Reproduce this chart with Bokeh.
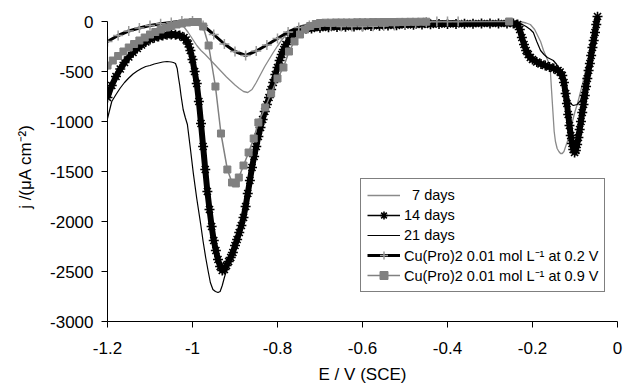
from bokeh.plotting import figure
from bokeh.models import Range1d, FixedTicker, Legend, LegendItem, ColumnDataSource
from bokeh.embed import file_html
from bokeh.resources import INLINE

# ---------------- data ----------------
X_TICKS = [-1.2, -1.0, -0.8, -0.6, -0.4, -0.2, 0.0]
X_TICK_LABELS = ["-1.2", "-1", "-0.8", "-0.6", "-0.4", "-0.2", "0"]
Y_TICKS = [0, -500, -1000, -1500, -2000, -2500, -3000]
Y_TICK_LABELS = ["0", "-500", "-1000", "-1500", "-2000", "-2500", "-3000"]

SERIES_NAMES = ["\u00a0\u00a07 days", "14 days", "21 days",
                "Cu(Pro)2 0.01 mol L\u207b\u00b9 at 0.2 V",
                "Cu(Pro)2 0.01 mol L\u207b\u00b9 at 0.9 V"]

E_7 = [-1.2, -1.18, -1.16, -1.14, -1.12, -1.10, -1.08, -1.06, -1.04, -1.03, -1.02, -1.01,
       -1.0, -0.99, -0.98, -0.97, -0.96, -0.95, -0.94, -0.93, -0.92, -0.91, -0.90, -0.89,
       -0.88, -0.87, -0.86, -0.85, -0.84, -0.83, -0.82, -0.81, -0.80, -0.79, -0.78, -0.77,
       -0.76, -0.74, -0.72, -0.70, -0.65, -0.60, -0.50, -0.40, -0.30, -0.235, -0.225,
       -0.215, -0.205, -0.195, -0.188, -0.181, -0.174, -0.168, -0.162, -0.158, -0.155,
       -0.152, -0.149, -0.146, -0.142, -0.138, -0.134, -0.130, -0.126, -0.122, -0.118,
       -0.114, -0.110, -0.106, -0.100, -0.094, -0.088, -0.082, -0.076, -0.070, -0.064,
       -0.058, -0.052, -0.048]
J_7 = [-480, -370, -290, -220, -160, -115, -75, -45, -25, -30, -55, -110,
       -175, -240, -290, -330, -375, -420, -465, -510, -555, -595, -635, -670,
       -700, -710, -680, -610, -530, -450, -380, -310, -245, -185, -135, -95,
       -65, -35, -20, -15, -10, -8, -5, 0, 0, 0, -5,
       -15, -30, -80, -140, -200, -290, -350, -410, -490, -700,
       -900, -1100, -1200, -1270, -1300, -1320, -1320, -1300, -1250, -1200,
       -1140, -1070, -1000, -900, -820, -720, -620, -510, -410, -300,
       -180, -60, 40]

E_14 = [-1.2, -1.19, -1.18, -1.17, -1.16, -1.15, -1.14, -1.13, -1.12, -1.11, -1.10, -1.09,
        -1.08, -1.07, -1.06, -1.05, -1.04, -1.03, -1.02, -1.015, -1.01, -1.005, -1.0,
        -0.995, -0.99, -0.985, -0.98, -0.975, -0.97, -0.965, -0.96, -0.955, -0.95, -0.945,
        -0.94, -0.935, -0.93, -0.925, -0.92, -0.915, -0.91, -0.905, -0.90, -0.895, -0.89,
        -0.885, -0.88, -0.875, -0.87, -0.865, -0.86, -0.855, -0.85, -0.845, -0.84, -0.835,
        -0.83, -0.825, -0.82, -0.815, -0.81, -0.805, -0.80, -0.795, -0.79, -0.785, -0.78,
        -0.77, -0.76, -0.75, -0.74, -0.72, -0.70, -0.68, -0.66, -0.64, -0.62, -0.60, -0.58,
        -0.56, -0.54, -0.52, -0.50, -0.48, -0.46, -0.44, -0.42, -0.40, -0.38, -0.36, -0.34,
        -0.32, -0.30, -0.28, -0.26, -0.245, -0.235, -0.23, -0.225, -0.22, -0.215, -0.21,
        -0.205, -0.20, -0.19, -0.18, -0.17, -0.16, -0.15, -0.14, -0.135, -0.13, -0.126,
        -0.122, -0.119, -0.116, -0.113, -0.11, -0.107, -0.104, -0.101, -0.098, -0.095,
        -0.092, -0.089, -0.086, -0.083, -0.08, -0.077, -0.074, -0.071, -0.068, -0.065,
        -0.062, -0.059, -0.056, -0.053, -0.05, -0.047]
J_14 = [-760, -640, -550, -475, -410, -355, -310, -270, -235, -205, -180, -162,
        -150, -140, -133, -130, -132, -140, -160, -185, -225, -290, -380,
        -500, -620, -800, -1020, -1250, -1480, -1700, -1880, -2050, -2190, -2290,
        -2380, -2450, -2490, -2480, -2440, -2400, -2360, -2310, -2240, -2180, -2110,
        -2040, -1960, -1850, -1720, -1590, -1460, -1350, -1250, -1150, -1060, -980,
        -900, -830, -760, -680, -610, -530, -460, -390, -330, -280, -230,
        -165, -125, -100, -85, -70, -62, -58, -55, -52, -50, -48, -45,
        -42, -40, -38, -35, -33, -30, -28, -26, -25, -24, -22, -22,
        -20, -20, -20, -20, -20, -30, -80, -160, -230, -290, -330,
        -360, -380, -405, -425, -440, -455, -470, -490, -505, -540, -610,
        -720, -820, -930, -1040, -1140, -1220, -1280, -1310, -1290, -1230,
        -1160, -1080, -1000, -910, -830, -740, -650, -570, -490, -420,
        -340, -260, -190, -110, -30, 50]

E_21 = [-1.2, -1.19, -1.18, -1.17, -1.16, -1.15, -1.14, -1.13, -1.12, -1.11, -1.10, -1.09,
        -1.08, -1.07, -1.06, -1.05, -1.045, -1.04, -1.036, -1.033, -1.03, -1.027, -1.022,
        -1.017, -1.012, -1.005, -0.998, -0.99, -0.981, -0.975, -0.969, -0.963, -0.958,
        -0.952, -0.946, -0.94, -0.935, -0.93, -0.925, -0.92, -0.91, -0.90, -0.89, -0.88,
        -0.87, -0.86, -0.85, -0.84, -0.83, -0.82, -0.81, -0.80, -0.79, -0.78, -0.77, -0.76,
        -0.74, -0.72, -0.70, -0.65, -0.60, -0.55, -0.50, -0.45, -0.40, -0.35, -0.30, -0.26,
        -0.235, -0.228, -0.215, -0.205, -0.198, -0.19, -0.181, -0.173, -0.165, -0.158,
        -0.151, -0.143, -0.134, -0.126, -0.118, -0.111, -0.104, -0.095, -0.087, -0.081,
        -0.075, -0.069, -0.064, -0.058, -0.052, -0.047]
J_21 = [-970, -800, -730, -665, -610, -565, -525, -495, -470, -450, -440, -425,
        -415, -405, -400, -405, -410, -420, -470, -560, -640, -740, -880,
        -960, -1030, -1270, -1520, -1770, -2020, -2200, -2360, -2500, -2610,
        -2680, -2700, -2710, -2700, -2640, -2560, -2490, -2390, -2280, -2150, -2000,
        -1770, -1510, -1290, -1090, -930, -790, -640, -490, -360, -260, -190, -145,
        -100, -80, -70, -60, -55, -45, -40, -35, -30, -25, -20, -15,
        -10, -20, -50, -80, -110, -200, -290, -330, -360, -375,
        -390, -430, -490, -580, -720, -820, -840, -830, -790, -700,
        -590, -480, -390, -250, -100, 40]

E_02 = [-1.2, -1.175, -1.15, -1.125, -1.1, -1.075, -1.05, -1.025, -1.0, -0.975, -0.95,
        -0.925, -0.9, -0.875, -0.85, -0.825, -0.8, -0.775, -0.75, -0.725, -0.7, -0.675,
        -0.65, -0.625, -0.6, -0.575, -0.55, -0.525, -0.5, -0.475, -0.45, -0.425, -0.4,
        -0.375]
J_02 = [-200, -140, -95, -65, -40, -22, -10, 5, 5, -40, -130,
        -225, -300, -340, -295, -235, -170, -105, -60, -40, -35, -45,
        -50, -50, -50, -48, -45, -40, -35, -25, -5, 0, 0,
        0]

E_09 = [-1.2, -1.1875, -1.175, -1.1625, -1.15, -1.1375, -1.125, -1.1125, -1.1, -1.0875,
        -1.075, -1.0625, -1.05, -1.0375, -1.025, -1.0125, -1.0, -0.9875, -0.975, -0.962,
        -0.946, -0.933, -0.918, -0.907, -0.898, -0.891, -0.880, -0.868, -0.856, -0.845,
        -0.829, -0.815, -0.800, -0.786, -0.773, -0.760, -0.747, -0.735, -0.723, -0.710,
        -0.700, -0.6875, -0.675, -0.6625, -0.65, -0.6375, -0.625, -0.6125, -0.6, -0.5875,
        -0.575, -0.5625, -0.55, -0.5375, -0.525, -0.5125, -0.5, -0.4875, -0.475, -0.4625,
        -0.45, -0.255]
J_09 = [-440, -390, -345, -300, -260, -225, -190, -160, -130, -105,
        -80, -60, -45, -30, -20, -10, -5, -5, -50, -240,
        -650, -1120, -1480, -1610, -1620, -1560, -1440, -1310, -1170, -1010,
        -860, -720, -570, -460, -300, -200, -130, -80, -45, -25,
        -15, -12, -12, -10, -10, -10, -10, -8, -8, -8,
        -6, -6, -5, -5, -5, -4, -4, -3, -3, -2,
        -2, 0]

# ---------------- figure ----------------
FONT = "Liberation Sans"

p = figure(width=623, height=390, output_backend="svg", toolbar_location=None,
           x_range=Range1d(-1.2, 0.0), y_range=Range1d(-3000, 100),
           min_border_left=107, min_border_right=6, min_border_top=11,
           min_border_bottom=69)
p.outline_line_color = None
p.xgrid.visible = False
p.ygrid.visible = False
p.background_fill_color = "white"
p.border_fill_color = "white"

for ax in (p.xaxis[0], p.yaxis[0]):
    ax.axis_line_color = "black"
    ax.axis_line_width = 1
    ax.major_tick_line_color = "black"
    ax.major_tick_in = 0
    ax.major_tick_out = 6
    ax.minor_tick_line_color = None
    ax.major_label_text_font = FONT
    ax.major_label_text_font_size = "17px"
    ax.major_label_text_color = "black"
    ax.axis_label_text_font = FONT
    ax.axis_label_text_font_size = "17px"
    ax.axis_label_text_font_style = "normal"
    ax.axis_label_text_color = "black"

p.xaxis.ticker = FixedTicker(ticks=X_TICKS)
p.xaxis.major_label_overrides = dict(zip(X_TICKS, X_TICK_LABELS))
p.xaxis.major_label_standoff = 14
p.xaxis.axis_label = "E / V (SCE)"
p.xaxis.axis_label_standoff = 8

p.yaxis.ticker = FixedTicker(ticks=Y_TICKS)
p.yaxis.major_label_overrides = dict(zip(Y_TICKS, Y_TICK_LABELS))
p.yaxis.bounds = (-3000, 0)
p.yaxis.major_label_standoff = 8
p.yaxis.axis_label = "j /(\u03bcA cm\u207b\u00b2)"
p.yaxis.axis_label_standoff = 12

GRAY_THIN = "#8a8a8a"
GRAY_SQ = "#808080"

s7 = ColumnDataSource(dict(x=E_7, y=J_7))
s14 = ColumnDataSource(dict(x=E_14, y=J_14))
s21 = ColumnDataSource(dict(x=E_21, y=J_21))
s02 = ColumnDataSource(dict(x=E_02, y=J_02))
s09 = ColumnDataSource(dict(x=E_09, y=J_09))

r7 = p.line("x", "y", source=s7, line_color=GRAY_THIN, line_width=1.3)

r14_band = p.line("x", "y", source=s14, line_color="black", line_width=6)
r14_line = p.line("x", "y", source=s14, line_color="black", line_width=1.5)
r14_mk = p.scatter("x", "y", source=s14, marker="asterisk", size=10,
                   line_color="black", line_width=1.6)

r21 = p.line("x", "y", source=s21, line_color="black", line_width=1.2)

r02_line = p.line("x", "y", source=s02, line_color="black", line_width=3)
r02_mk = p.scatter("x", "y", source=s02, marker="cross", size=10,
                   line_color="#9a9a9a", line_width=1.5)

r09_line = p.line("x", "y", source=s09, line_color=GRAY_SQ, line_width=1.5)
r09_mk = p.scatter("x", "y", source=s09, marker="square", size=7,
                   fill_color=GRAY_SQ, line_color=GRAY_SQ)

legend = Legend(items=[
    LegendItem(label=SERIES_NAMES[0], renderers=[r7]),
    LegendItem(label=SERIES_NAMES[1], renderers=[r14_line, r14_mk]),
    LegendItem(label=SERIES_NAMES[2], renderers=[r21]),
    LegendItem(label=SERIES_NAMES[3], renderers=[r02_line, r02_mk]),
    LegendItem(label=SERIES_NAMES[4], renderers=[r09_line, r09_mk]),
], location=(253, 29))
legend.label_text_font = FONT
legend.label_text_font_size = "14.5px"
legend.label_text_color = "black"
legend.glyph_width = 33
legend.glyph_height = 20
legend.label_height = 20
legend.spacing = 0
legend.padding = 6
legend.margin = 0
legend.label_standoff = 4
legend.border_line_color = "black"
legend.border_line_width = 1
legend.background_fill_color = "white"
legend.background_fill_alpha = 1.0
p.add_layout(legend)

open("out.html", "w").write(file_html(p, INLINE))
